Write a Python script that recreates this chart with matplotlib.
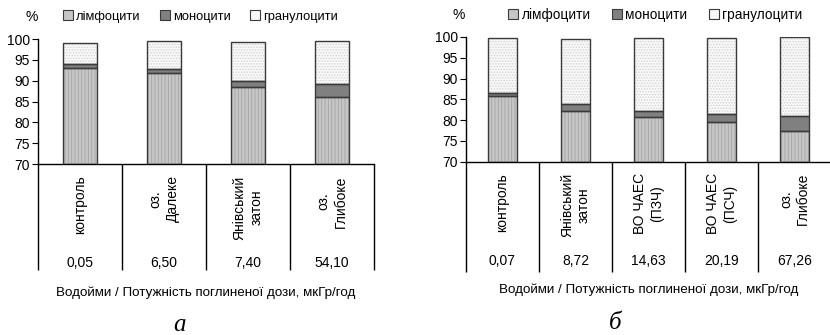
# -*- coding: utf-8 -*-
# Blood cell composition (лімфоцити / моноцити / гранулоцити) by water body

import numpy as np
from matplotlib import pyplot as plt
from matplotlib import transforms

plt.rcParams['font.family'] = ['Liberation Sans', 'DejaVu Sans']
plt.rcParams['hatch.linewidth'] = 0.6

# Data
# ========================================
series_names = ["лімфоцити", "моноцити", "гранулоцити"]

# panel а
cats_a = ["контроль", "оз.\nДалеке", "Янівський\nзатон", "оз.\nГлибоке"]
dose_a = ["0,05", "6,50", "7,40", "54,10"]
lymph_a = [93.0, 91.9, 88.6, 86.2]
mono_a = [1.1, 1.0, 1.3, 2.9]
gran_a = [5.0, 6.7, 9.3, 10.5]

# panel б
cats_b = ["контроль", "Янівський\nзатон", "ВО ЧАЕС\n(ПЗЧ)", "ВО ЧАЕС\n(ПСЧ)", "оз.\nГлибоке"]
dose_b = ["0,07", "8,72", "14,63", "20,19", "67,26"]
lymph_b = [85.9, 82.1, 80.8, 79.6, 77.4]
mono_b = [0.6, 1.7, 1.3, 1.9, 3.5]
gran_b = [13.2, 15.6, 17.6, 18.2, 19.1]

xlabel = "Водойми / Потужність поглиненої дози, мкГр/год"
ymin = 70

# Styles: (face, hatch colour, hatch)
styles = [("#c6c6c6", "#a4a4a4", "|||||"),
          ("#808080", "#707070", None),
          ("#f8f8f8", "#d0d0d0", "......")]
edge = "#3a3a3a"


def draw_panel(ax, cats, dose, series, sep_len, letter, leg_anchor,
               leg_fs, colsp):
    x = np.arange(len(cats))
    bottom = np.full(len(cats), float(ymin))
    handles = []
    for j, (vals, (fc, hc, hatch)) in enumerate(zip(series, styles)):
        h = np.asarray(vals, dtype=float)
        if j == 0:
            h = h - ymin  # first segment starts at the axis floor
        ax.bar(x, h, 0.4, bottom=bottom, color=fc, edgecolor=hc,
               hatch=hatch, linewidth=0, zorder=2)
        ax.bar(x, h, 0.4, bottom=bottom, fill=False, edgecolor=edge,
               linewidth=1.0, zorder=3)
        handles.append(plt.Rectangle((0, 0), 1, 1, facecolor=fc,
                                     edgecolor=edge, linewidth=0.8))
        bottom = bottom + h

    ax.set_xlim(-0.5, len(cats) - 0.5)
    ax.set_ylim(ymin, 100)
    ax.set_yticks(np.arange(70, 101, 5))
    ax.tick_params(axis='y', labelsize=10, length=4, width=0.8, pad=2)
    for s in ["top", "right"]:
        ax.spines[s].set_visible(False)
    for s in ["left", "bottom"]:
        ax.spines[s].set_linewidth(1.0)
        ax.spines[s].set_color("black")

    # table-like x axis: separators as long minor ticks
    ax.set_xticks([])
    ax.set_xticks(np.arange(len(cats) + 1) - 0.5, minor=True)
    ax.tick_params(axis='x', which='minor', length=sep_len, width=1.0,
                   direction='out', color='black')

    trans = transforms.blended_transform_factory(ax.transData, ax.transAxes)
    for i, (c, d) in enumerate(zip(cats, dose)):
        ax.text(i, -0.09, c, rotation=90, ha='center', va='top',
                multialignment='center', fontsize=10, transform=trans,
                linespacing=1.25)
        ax.text(i, -0.795, d, ha='center', va='center', fontsize=10,
                transform=trans)
    ax.text(0.5, -1.03, xlabel, ha='center', va='center', fontsize=9.6,
            transform=ax.transAxes)
    ax.text(0.42 if letter == "а" else 0.41, -1.29, letter, ha='center',
            va='center', fontsize=18, style='italic',
            family='Liberation Serif', transform=ax.transAxes)

    ax.text(-0.02, 1.18, "%", ha='center', va='center', fontsize=10,
            transform=ax.transAxes)
    ax.legend(handles, series_names, loc='center left',
              bbox_to_anchor=leg_anchor, ncol=3, frameon=False,
              handlelength=0.75, handleheight=0.75, handletextpad=0.25,
              columnspacing=colsp, fontsize=leg_fs, borderaxespad=0,
              borderpad=0)


fig = plt.figure(figsize=(8.3, 3.35), dpi=100)
ax1 = fig.add_axes([0.0458, 0.5104, 0.4048, 0.3731])
ax2 = fig.add_axes([0.5614, 0.5173, 0.4398, 0.3723])

draw_panel(ax1, cats_a, dose_a, [lymph_a, mono_a, gran_a], 76, "а",
           (0.075, 1.18), 9.3, 1.5)
draw_panel(ax2, cats_b, dose_b, [lymph_b, mono_b, gran_b], 79, "б",
           (0.115, 1.18), 9.8, 1.55)

fig.savefig("out.png", dpi=100)
